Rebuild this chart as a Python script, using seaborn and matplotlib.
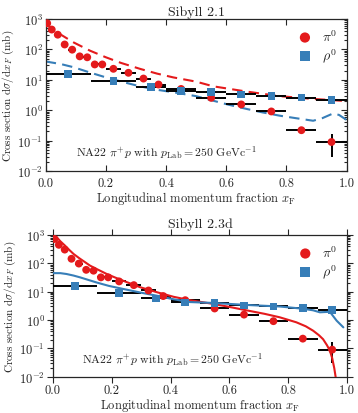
import numpy as np
import pandas as pd
import seaborn as sns
import matplotlib.pyplot as plt

# NA22 data
pi0_x = [0.005, 0.02, 0.04, 0.063, 0.088, 0.113, 0.138, 0.163, 0.188,
         0.225, 0.275, 0.325, 0.375, 0.45, 0.55, 0.65, 0.75, 0.85, 0.95]
pi0_y = [720, 450, 305, 145, 98, 59, 55, 32, 32,
         23, 17, 11, 7.0, 5.0, 2.55, 1.55, 0.91, 0.22, 0.09]
pi0_xerr = [0.005, 0.01, 0.01, 0.0125, 0.0125, 0.0125, 0.0125, 0.0125, 0.0125,
            0.025, 0.025, 0.025, 0.025, 0.05, 0.05, 0.05, 0.05, 0.05, 0.05]
pi0_yerr_lo = [0] * 17 + [0.02, 0.06]
pi0_yerr_hi = [0] * 17 + [0.02, 0.075]

rho_x = [0.075, 0.225, 0.35, 0.45, 0.55, 0.65, 0.75, 0.85, 0.95]
rho_y = [15.5, 9.0, 5.8, 4.2, 4.0, 3.3, 3.0, 2.6, 2.2]
rho_xerr = [0.075, 0.075, 0.05, 0.05, 0.05, 0.05, 0.05, 0.05, 0.05]

# Sibyll 2.1 (dashed)
s21_pi0_x = [0.0, 0.02, 0.047, 0.092, 0.147, 0.2, 0.25, 0.313, 0.37, 0.424,
             0.5, 0.557, 0.668, 0.778, 0.889, 1.0]
s21_pi0 = [720, 480, 320, 171, 91, 55, 36, 23, 16, 12,
           8.7, 6.1, 4.1, 2.9, 2.35, 2.0]
s21_rho_x = [0.0, 0.05, 0.092, 0.15, 0.2, 0.25, 0.313, 0.37, 0.424, 0.5, 0.557,
             0.61, 0.668, 0.72, 0.778, 0.83, 0.889, 0.92, 0.955, 0.975, 1.0]
s21_rho = [40, 33, 26, 17, 12, 8.8, 6.1, 4.7, 3.9, 2.9, 2.05,
           1.5, 1.1, 0.85, 0.66, 0.55, 0.45, 0.55, 0.78, 0.7, 0.48]

# Sibyll 2.3d (solid)
s23_pi0_x = [0.0, 0.013, 0.025, 0.041, 0.055, 0.07, 0.09, 0.11, 0.126, 0.15,
             0.183, 0.21, 0.24, 0.296, 0.353, 0.41, 0.466, 0.545, 0.6, 0.658,
             0.72, 0.771, 0.828, 0.86, 0.885, 0.905, 0.919, 0.932, 0.942,
             0.95, 0.957, 0.963]
s23_pi0 = [900, 830, 600, 420, 300, 214, 150, 108, 83, 62,
           42, 32, 24, 14.4, 9.6, 6.6, 5.0, 3.7, 2.9, 2.2,
           1.65, 1.25, 0.83, 0.6, 0.42, 0.29, 0.21, 0.13, 0.083,
           0.045, 0.02, 0.008]
s23_rho_x = [0.0, 0.025, 0.046, 0.07, 0.092, 0.12, 0.149, 0.19, 0.24, 0.3,
             0.353, 0.41, 0.466, 0.545, 0.658, 0.771, 0.85, 0.885, 0.908,
             0.942, 0.965, 0.988]
s23_rho = [45, 45, 42, 37, 32, 26, 21, 16, 12.4, 9.2,
           7.2, 5.4, 4.3, 4.0, 3.4, 3.0, 2.5, 2.2, 1.87,
           1.95, 0.95, 0.55]

sns.set_style('ticks')
plt.rcParams['font.family'] = ['cmr10', 'DejaVu Serif']
plt.rcParams['mathtext.fontset'] = 'cm'
plt.rcParams['axes.formatter.use_mathtext'] = True
plt.rcParams['font.size'] = 9

pal = sns.color_palette('Set1')
red, blue = pal[0], pal[1]

fig = plt.figure(figsize=(3.58, 4.14), dpi=100)
ax1 = fig.add_axes([0.1277, 0.5845, 0.8403, 0.3672])
ax2 = fig.add_axes([0.148, 0.0877, 0.821, 0.3423])


def draw_data(ax):
    ax.errorbar(pi0_x, pi0_y, xerr=pi0_xerr, yerr=[pi0_yerr_lo, pi0_yerr_hi],
                fmt='none', ecolor='k', elinewidth=1.4, capsize=0, zorder=3)
    ax.errorbar(rho_x, rho_y, xerr=rho_xerr, fmt='none', ecolor='k',
                elinewidth=1.4, capsize=0, zorder=3)
    sns.scatterplot(x=pi0_x, y=pi0_y, ax=ax, color=red, marker='o', s=32,
                    edgecolor='none', label=r'$\pi^0$', zorder=6)
    sns.scatterplot(x=rho_x, y=rho_y, ax=ax, color=blue, marker='s', s=30,
                    edgecolor='none', label=r'$\rho^0$', zorder=6)


def style_axes(ax, title, direction, title_pad, xpad):
    ax.set_yscale('log')
    ax.set_xlim(0, 1)
    ax.set_ylim(1e-2, 1e3)
    ax.set_xticks([0, 0.2, 0.4, 0.6, 0.8, 1.0])
    ax.set_xticklabels(['0.0', '0.2', '0.4', '0.6', '0.8', '1.0'])
    ax.xaxis.set_minor_locator(plt.NullLocator())
    ax.tick_params(which='both', direction=direction, top=True, right=True,
                   labelsize=9, width=0.8, pad=2)
    ax.tick_params(axis='x', pad=xpad)
    ax.tick_params(which='major', length=4)
    ax.tick_params(which='minor', length=2)
    ax.set_title(title, fontsize=10, pad=title_pad)
    ax.set_xlabel(r'Longitudinal momentum fraction $x_\mathrm{F}$', fontsize=9, labelpad=0)
    ax.set_ylabel(r'Cross section d$\sigma/$d$x_F$ (mb)', fontsize=8, labelpad=1)
    ax.text(0.1, 0.1, r'NA22 $\pi^{+}p$ with $p_\mathrm{Lab}=250\ \mathrm{GeVc}^{-1}$',
            transform=ax.transAxes, fontsize=8.5)
    ax.legend(loc='upper right', frameon=False, fontsize=10, handletextpad=0.2,
              borderaxespad=0.3, labelspacing=0.15, markerscale=1.3)
    for sp in ax.spines.values():
        sp.set_linewidth(0.9)


# top: Sibyll 2.1
sns.lineplot(x=s21_pi0_x, y=s21_pi0, ax=ax1, color=red, lw=1.5, zorder=2)
ax1.lines[-1].set_linestyle((0, (5, 3)))
sns.lineplot(x=s21_rho_x, y=s21_rho, ax=ax1, color=blue, lw=1.5, zorder=2)
ax1.lines[-1].set_linestyle((0, (5, 3)))
draw_data(ax1)
style_axes(ax1, 'Sibyll 2.1', 'in', 3, 4)

# bottom: Sibyll 2.3d
sns.lineplot(x=s23_pi0_x, y=s23_pi0, ax=ax2, color=red, lw=1.5, zorder=5)
sns.lineplot(x=s23_rho_x, y=s23_rho, ax=ax2, color=blue, lw=1.5, zorder=5)
draw_data(ax2)
style_axes(ax2, 'Sibyll 2.3d', 'out', 6, 1)

fig.savefig('out.png', dpi=100)
